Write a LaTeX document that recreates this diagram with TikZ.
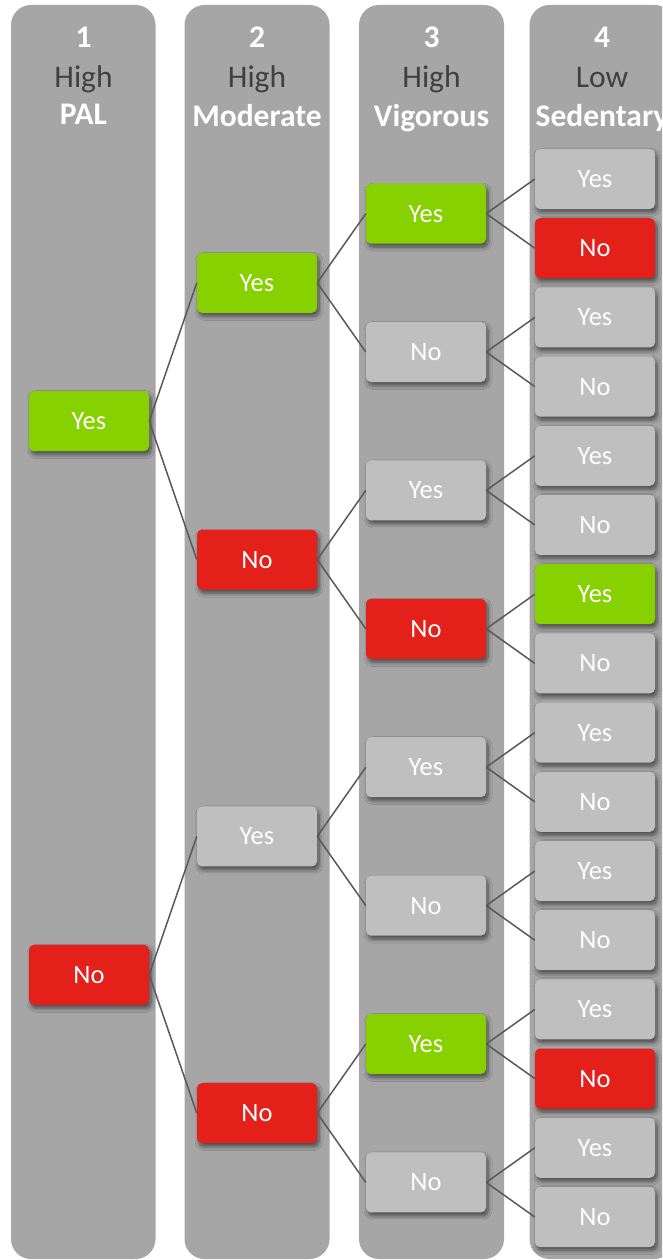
\documentclass[tikz,border=0pt]{standalone}
\usepackage{fontspec}
\setmainfont{Carlito}
\usetikzlibrary{shadows.blur}
\definecolor{colbg}{HTML}{A6A6A6}
\definecolor{boxgray}{HTML}{BFBFBF}
\definecolor{boxgreen}{HTML}{88D100}
\definecolor{boxred}{HTML}{E3211A}
\definecolor{linkgray}{HTML}{595959}
\definecolor{headdark}{HTML}{404040}
\begin{document}
\begin{tikzpicture}[x=1pt,y=-1pt,
  colbox/.style={fill=colbg, rounded corners=20pt},
  dbox/.style={minimum width=120pt, minimum height=60pt, rounded corners=5pt, inner sep=0pt,
    text=white, font=\fontsize{26.5}{30}\selectfont,
    blur shadow={shadow xshift=2pt, shadow yshift=-3.5pt, shadow blur radius=4pt, shadow blur steps=8, shadow opacity=55}},
  gy/.style={dbox, fill=boxgray},
  gn/.style={dbox, fill=boxgreen},
  rd/.style={dbox, fill=boxred},
  link/.style={draw=linkgray, line width=1.5pt},
  hnum/.style={anchor=base, text=white, font=\fontsize{31.5}{36}\selectfont\bfseries, inner sep=0pt},
  hmid/.style={anchor=base, text=headdark, font=\fontsize{31.5}{36}\selectfont, inner sep=0pt},
  hbold/.style={anchor=base, text=white, font=\fontsize{31.5}{36}\selectfont\bfseries, inner sep=0pt}]
\useasboundingbox (0,0) rectangle (662,1260);
\clip (0,0) rectangle (662,1260);
% columns
\fill[colbox] (11,5) rectangle (155.5,1259);
\fill[colbox] (184.5,5) rectangle (329.5,1259);
\fill[colbox] (359,5) rectangle (504,1259);
\fill[colbox] (529.5,5) rectangle (674.5,1259);
% headers
\node[hnum] (n1) at (83.5,48) {1};
\node[hmid] (m1) at (83.5,88) {High};
\node[hbold] (b1) at (83.5,125) {PAL};
\node[hnum] (n2) at (257,48) {2};
\node[hmid] (m2) at (257,88) {High};
\node[hbold] (b2) at (257,127) {Moderate};
\node[hnum] (n3) at (431.5,48) {3};
\node[hmid] (m3) at (431.5,88) {High};
\node[hbold] (b3) at (431.5,127) {Vigorous};
\node[hnum] (n4) at (602,48) {4};
\node[hmid] (m4) at (602,88) {Low};
\node[hbold] (b4) at (602,127) {Sedentary};
% column 1
\node[gn] (a0) at (89,421.2) {Yes};
\node[rd] (a1) at (89,974.8) {No};
% column 2
\foreach \st/\tx [count=\i from 0] in {gn/Yes,rd/No,gy/Yes,rd/No}
  \node[\st] (b\i) at (257,{282.8+276.8*\i}) {\tx};
% column 3
\foreach \st/\tx [count=\i from 0] in {gn/Yes,gy/No,gy/Yes,rd/No,gy/Yes,gy/No,gn/Yes,gy/No}
  \node[\st] (c\i) at (426,{213.6+138.4*\i}) {\tx};
% column 4
\foreach \st/\tx [count=\i from 0] in {gy/Yes,rd/No,gy/Yes,gy/No,gy/Yes,gy/No,gn/Yes,gy/No,gy/Yes,gy/No,gy/Yes,gy/No,gy/Yes,rd/No,gy/Yes,gy/No}
  \node[\st] (d\i) at (595,{179+69.2*\i}) {\tx};
% links
\foreach \i in {0,1} {
  \pgfmathtruncatemacro\ca{2*\i}\pgfmathtruncatemacro\cb{2*\i+1}
  \draw[link] (a\i.east) -- (b\ca.west);
  \draw[link] (a\i.east) -- (b\cb.west);
}
\foreach \i in {0,...,3} {
  \pgfmathtruncatemacro\ca{2*\i}\pgfmathtruncatemacro\cb{2*\i+1}
  \draw[link] (b\i.east) -- (c\ca.west);
  \draw[link] (b\i.east) -- (c\cb.west);
}
\foreach \i in {0,...,7} {
  \pgfmathtruncatemacro\ca{2*\i}\pgfmathtruncatemacro\cb{2*\i+1}
  \draw[link] (c\i.east) -- (d\ca.west);
  \draw[link] (c\i.east) -- (d\cb.west);
}
\end{tikzpicture}
\end{document}
